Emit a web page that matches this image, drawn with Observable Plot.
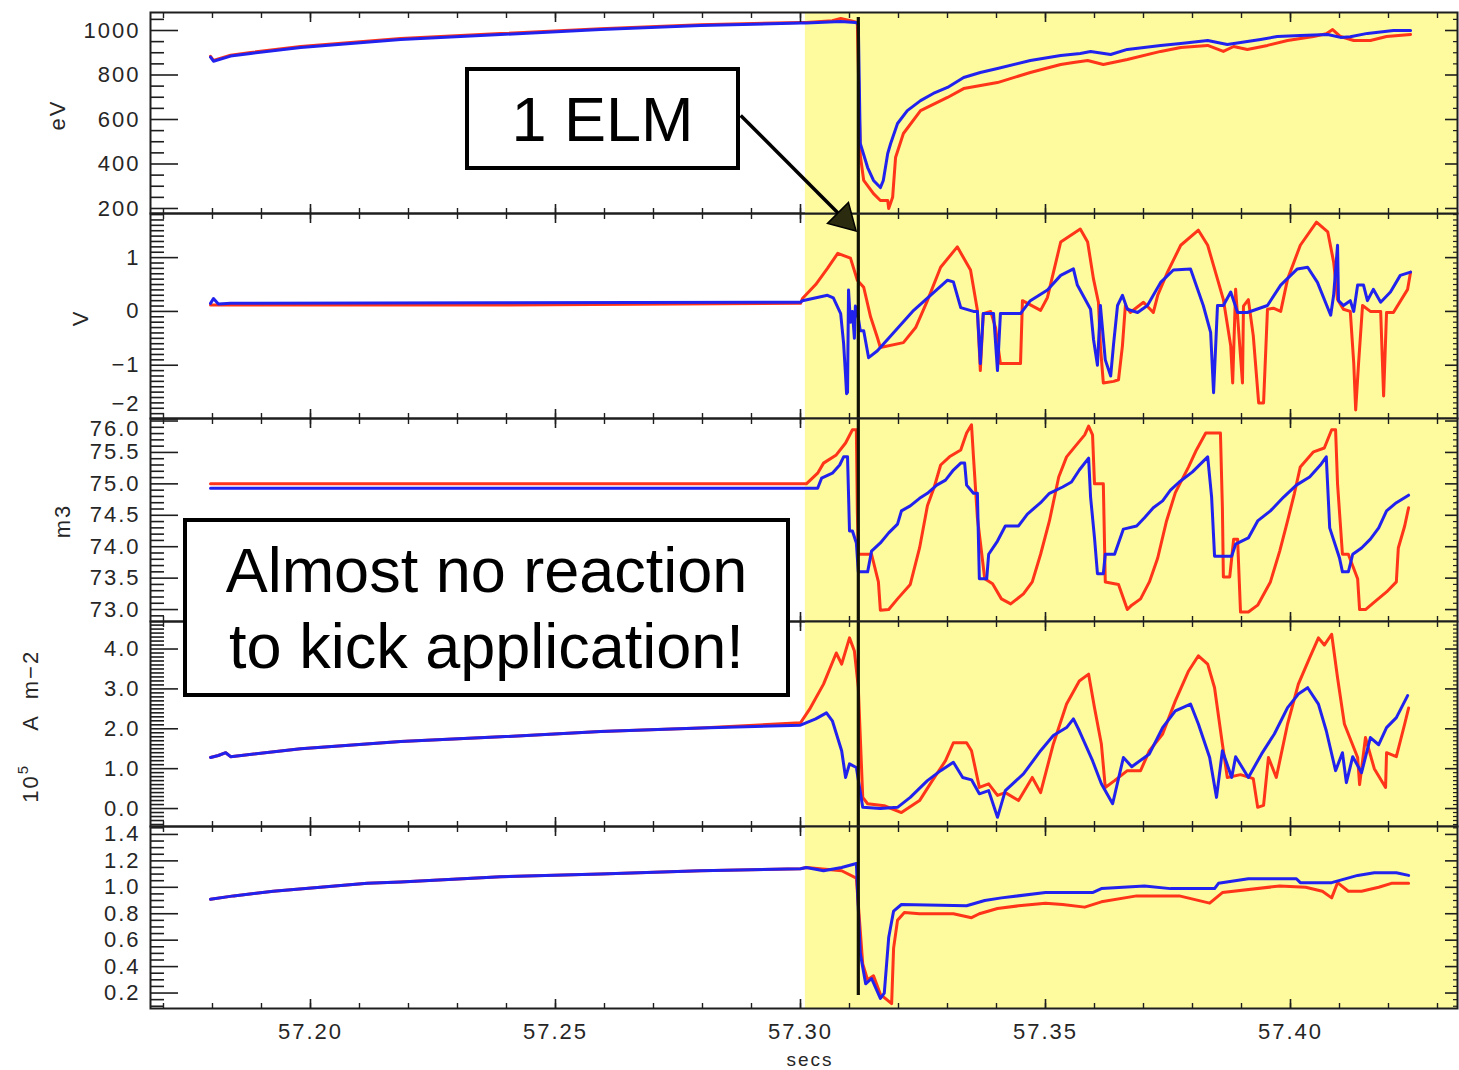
<!DOCTYPE html>
<html>
<head>
<meta charset="utf-8">
<script src="https://cdn.jsdelivr.net/npm/d3@7"></script>
<script src="https://cdn.jsdelivr.net/npm/@observablehq/plot@0.6"></script>
<style>
  body { margin: 0; background: #fff; }
  #chart { position: relative; width: 1459px; height: 1070px; overflow: hidden; background: #fff; }
  .panel { position: absolute; left: 0; }
  .panel svg { overflow: visible; display: block; }
  .panel svg text { letter-spacing: 2px; }
  .note { position: absolute; box-sizing: border-box; border: 4px solid #000; background: #fff;
          font-family: "Liberation Sans", Arial, sans-serif; font-size: 63px; color: #000;
          display: flex; align-items: center; justify-content: center; text-align: center;
          line-height: 76px; z-index: 5; }
</style>
</head>
<body>
<div id="chart"></div>
<script>
// ---------- shared axis data ----------
const xDomain = [57.16735, 57.43408];
const xMajorTicks = [57.20, 57.25, 57.30, 57.35, 57.40];
const xMinorTicks = d3.range(5717, 5744).map(d => d / 100);
const kickWindow = [{start: 57.3010, end: 57.43408}];
const elmTime = [57.3118];
// arrow from the "1 ELM" box to the ELM line (shaft start, head centre)
const elmArrow = [{t1: 57.2878, v1: 618, t2: 57.30888, v2: 153}];

// ---------- panel 1 : eV ----------
const teBlue = [[57.1796,880],[57.1802,862],[57.1837,885],[57.1878,897],[57.1980,924],[57.2184,960],[57.2388,982],[57.2592,1004],[57.2796,1022],[57.3000,1034],[57.3012,1034],[57.3082,1040],[57.3112,1036],[57.3118,1030],[57.3122,492],[57.3137,384],[57.3149,326],[57.3163,294],[57.3169,326],[57.3178,447],[57.3184,492],[57.3198,582],[57.3218,640],[57.3245,685],[57.3271,717],[57.3300,744],[57.3333,789],[57.3367,811],[57.3402,829],[57.3469,865],[57.3531,888],[57.3571,897],[57.3592,906],[57.3633,892],[57.3667,915],[57.3735,933],[57.3776,942],[57.3831,955],[57.3871,937],[57.3939,960],[57.3973,973],[57.4020,978],[57.4076,982],[57.4102,969],[57.4122,972],[57.4157,987],[57.4210,1000],[57.4245,1000]];
const teRed = [[57.1796,884],[57.1802,866],[57.1837,889],[57.1878,901],[57.1980,928],[57.2184,964],[57.2388,986],[57.2592,1008],[57.2796,1026],[57.3000,1036],[57.3012,1036],[57.3065,1044],[57.3082,1054],[57.3102,1044],[57.3116,1036],[57.3122,440],[57.3129,326],[57.3149,267],[57.3163,236],[57.3178,236],[57.3180,200],[57.3188,250],[57.3194,429],[57.3210,537],[57.3245,640],[57.3300,699],[57.3333,739],[57.3402,766],[57.3469,811],[57.3531,847],[57.3557,856],[57.3586,865],[57.3618,847],[57.3667,870],[57.3735,906],[57.3776,924],[57.3831,933],[57.3863,906],[57.3884,928],[57.3912,915],[57.3953,933],[57.3994,955],[57.4047,973],[57.4073,985],[57.4086,1004],[57.4102,973],[57.4129,955],[57.4163,955],[57.4196,973],[57.4245,982]];

// ---------- panel 2 : V ----------
const vBlue = [[57.1796,0.15],[57.1802,0.24],[57.1812,0.14],[57.1837,0.15],[57.2388,0.16],[57.3000,0.17],[57.3004,0.2],[57.3055,0.3],[57.3067,0.25],[57.3082,-0.04],[57.3088,-0.6],[57.3092,-1.2],[57.3094,-1.53],[57.3096,-1.5],[57.3098,0.4],[57.3102,-0.2],[57.3106,0.0],[57.3110,-0.5],[57.3112,0.1],[57.3116,0.0],[57.3122,-0.36],[57.3129,-0.36],[57.3139,-0.86],[57.3157,-0.73],[57.3231,0.02],[57.3300,0.58],[57.3312,0.55],[57.3327,0.07],[57.3353,0.0],[57.3361,0.0],[57.3367,-0.97],[57.3373,-0.04],[57.3394,-0.04],[57.3402,-1.1],[57.3408,-0.04],[57.3449,-0.04],[57.3469,0.2],[57.3504,0.4],[57.3531,0.67],[57.3557,0.79],[57.3565,0.49],[57.3592,0.04],[57.3598,-0.52],[57.3606,-1.0],[57.3612,0.11],[57.3622,-0.9],[57.3633,-1.2],[57.3639,-0.6],[57.3647,0.11],[57.3657,0.3],[57.3667,0.04],[57.3688,-0.02],[57.3708,0.11],[57.3735,0.54],[57.3761,0.77],[57.3796,0.79],[57.3822,0.11],[57.3837,-0.39],[57.3843,-1.51],[57.3851,0.11],[57.3863,0.11],[57.3878,0.36],[57.3892,-0.02],[57.3912,-0.02],[57.3953,0.11],[57.3980,0.49],[57.4014,0.79],[57.4035,0.82],[57.4055,0.54],[57.4082,-0.07],[57.4088,0.3],[57.4096,1.23],[57.4098,0.2],[57.4108,0.11],[57.4122,0.2],[57.4129,0.0],[57.4137,0.49],[57.4149,0.49],[57.4157,0.2],[57.4169,0.41],[57.4184,0.17],[57.4204,0.36],[57.4224,0.67],[57.4245,0.73]];
const vRed = [[57.1796,0.12],[57.2388,0.12],[57.3000,0.15],[57.3004,0.24],[57.3031,0.5],[57.3055,0.8],[57.3076,1.08],[57.3102,0.99],[57.3116,0.58],[57.3129,0.45],[57.3143,-0.1],[57.3157,-0.49],[57.3163,-0.67],[57.3210,-0.58],[57.3235,-0.3],[57.3259,0.2],[57.3286,0.82],[57.3320,1.2],[57.3347,0.77],[57.3361,0.02],[57.3367,-1.1],[57.3373,-0.04],[57.3388,0.0],[57.3398,-0.3],[57.3408,-0.97],[57.3449,-0.97],[57.3453,0.2],[57.3490,0.02],[57.3504,0.26],[57.3531,1.29],[57.3571,1.53],[57.3586,1.29],[57.3598,0.6],[57.3608,0.17],[57.3612,-0.64],[57.3618,-1.33],[57.3639,-1.3],[57.3649,-1.27],[57.3657,-0.64],[57.3663,0.11],[57.3673,-0.02],[57.3700,0.17],[57.3720,-0.02],[57.3729,0.3],[57.3749,0.73],[57.3776,1.23],[57.3812,1.51],[57.3831,1.23],[57.3851,0.6],[57.3863,0.22],[57.3878,-0.64],[57.3882,-1.33],[57.3888,0.41],[57.3902,-1.33],[57.3904,0.1],[57.3914,0.22],[57.3924,-0.45],[57.3935,-1.7],[57.3945,-1.7],[57.3953,0.04],[57.3965,0.06],[57.3980,0.0],[57.3994,0.6],[57.4020,1.23],[57.4053,1.66],[57.4076,1.48],[57.4088,0.92],[57.4096,0.22],[57.4108,0.04],[57.4122,0.0],[57.4129,-0.95],[57.4133,-1.83],[57.4139,-0.95],[57.4147,0.11],[57.4163,0.0],[57.4184,0.0],[57.4190,-1.57],[57.4196,-0.02],[57.4210,-0.02],[57.4239,0.41],[57.4245,0.73]];

// ---------- panel 3 : m3 ----------
const mBlue = [[57.1796,74.93],[57.3000,74.93],[57.3035,74.93],[57.3043,75.09],[57.3065,75.17],[57.3080,75.3],[57.3088,75.43],[57.3096,75.43],[57.3100,74.25],[57.3106,74.25],[57.3114,74.06],[57.3118,73.6],[57.3137,73.6],[57.3145,73.93],[57.3163,74.06],[57.3180,74.22],[57.3198,74.36],[57.3206,74.57],[57.3224,74.65],[57.3243,74.77],[57.3259,74.85],[57.3278,74.98],[57.3296,75.06],[57.3312,75.22],[57.3327,75.33],[57.3335,75.33],[57.3339,74.98],[57.3353,74.85],[57.3361,74.85],[57.3365,73.49],[57.3380,73.49],[57.3384,73.88],[57.3402,74.09],[57.3418,74.33],[57.3445,74.33],[57.3463,74.52],[57.3490,74.7],[57.3508,74.85],[57.3535,74.95],[57.3553,75.03],[57.3569,75.22],[57.3588,75.41],[57.3592,74.79],[57.3600,74.14],[57.3606,73.57],[57.3618,73.57],[57.3622,73.88],[57.3641,73.88],[57.3659,74.28],[57.3686,74.33],[57.3702,74.46],[57.3720,74.62],[57.3739,74.73],[57.3755,74.9],[57.3773,75.03],[57.3800,75.19],[57.3818,75.33],[57.3831,75.43],[57.3839,74.79],[57.3845,73.85],[57.3880,73.85],[57.3888,74.04],[57.3914,74.14],[57.3933,74.41],[57.3959,74.57],[57.3986,74.79],[57.4012,74.98],[57.4039,75.11],[57.4061,75.3],[57.4073,75.43],[57.4080,74.3],[57.4100,73.82],[57.4106,73.6],[57.4118,73.6],[57.4127,73.88],[57.4145,73.98],[57.4163,74.12],[57.4180,74.3],[57.4196,74.57],[57.4216,74.7],[57.4241,74.82]];
const mRed = [[57.1796,75.0],[57.3000,75.0],[57.3012,75.0],[57.3035,75.17],[57.3047,75.33],[57.3073,75.46],[57.3092,75.65],[57.3106,75.86],[57.3114,75.86],[57.3116,74.57],[57.3118,73.88],[57.3145,73.88],[57.3159,73.44],[57.3163,72.99],[57.3180,73.0],[57.3198,73.17],[57.3224,73.4],[57.3243,73.98],[57.3259,74.65],[57.3273,74.95],[57.3286,75.3],[57.3304,75.43],[57.3327,75.54],[57.3339,75.81],[57.3349,75.94],[57.3353,75.43],[57.3361,74.46],[57.3376,73.49],[57.3392,73.41],[57.3410,73.17],[57.3429,73.09],[57.3455,73.25],[57.3473,73.44],[57.3490,73.88],[57.3508,74.41],[57.3527,75.11],[57.3543,75.43],[57.3561,75.6],[57.3580,75.78],[57.3588,75.92],[57.3596,75.78],[57.3600,75.0],[57.3618,75.0],[57.3622,73.44],[57.3649,73.4],[57.3667,73.0],[57.3676,73.07],[57.3694,73.17],[57.3712,73.44],[57.3729,73.82],[57.3747,74.41],[57.3765,74.86],[57.3792,75.27],[57.3808,75.54],[57.3827,75.81],[57.3857,75.81],[57.3861,74.62],[57.3863,73.52],[57.3876,73.52],[57.3880,73.82],[57.3884,74.12],[57.3892,74.12],[57.3898,72.96],[57.3914,72.96],[57.3933,73.07],[57.3959,73.44],[57.3978,73.93],[57.3994,74.41],[57.4008,74.85],[57.4020,75.27],[57.4047,75.51],[57.4069,75.57],[57.4084,75.86],[57.4092,75.86],[57.4096,75.0],[57.4106,73.88],[57.4118,73.88],[57.4137,73.49],[57.4141,73.0],[57.4153,73.0],[57.4171,73.12],[57.4196,73.28],[57.4216,73.44],[57.4220,73.98],[57.4233,74.33],[57.4241,74.62]];

// ---------- panel 4 : 10^5 A m-2 ----------
const jBlue = [[57.1796,1.28],[57.1812,1.33],[57.1827,1.4],[57.1837,1.3],[57.1980,1.5],[57.2184,1.68],[57.2388,1.8],[57.2592,1.93],[57.2796,2.02],[57.3000,2.09],[57.3031,2.25],[57.3053,2.4],[57.3065,2.2],[57.3084,1.45],[57.3092,0.78],[57.3100,1.12],[57.3114,1.03],[57.3127,0.03],[57.3163,0.0],[57.3198,0.03],[57.3224,0.28],[57.3259,0.7],[57.3286,0.95],[57.3312,1.16],[57.3331,0.78],[57.3349,0.72],[57.3365,0.37],[57.3384,0.45],[57.3402,-0.22],[57.3418,0.45],[57.3455,0.87],[57.3490,1.45],[57.3516,1.83],[57.3543,2.03],[57.3557,2.25],[57.3569,1.95],[57.3596,1.2],[57.3614,0.62],[57.3637,0.12],[57.3659,1.28],[57.3676,1.05],[57.3712,1.37],[57.3739,2.03],[57.3765,2.45],[57.3796,2.62],[57.3812,2.12],[57.3835,1.28],[57.3849,0.28],[57.3861,1.45],[57.3880,0.78],[57.3888,1.3],[57.3914,0.78],[57.3941,1.37],[57.3967,1.87],[57.3994,2.53],[57.4016,2.87],[57.4035,3.03],[57.4057,2.62],[57.4073,1.95],[57.4092,0.95],[57.4106,1.4],[57.4114,0.65],[57.4127,1.3],[57.4145,0.9],[57.4163,1.78],[57.4180,1.6],[57.4196,2.03],[57.4216,2.28],[57.4239,2.83]];
const jRed = [[57.1796,1.28],[57.1812,1.33],[57.1827,1.4],[57.1837,1.3],[57.1980,1.5],[57.2184,1.68],[57.2388,1.8],[57.2592,1.93],[57.2796,2.02],[57.3000,2.15],[57.3020,2.52],[57.3047,3.12],[57.3073,3.9],[57.3084,3.62],[57.3100,4.28],[57.3110,3.95],[57.3118,3.03],[57.3127,0.28],[57.3137,0.12],[57.3171,0.07],[57.3206,-0.1],[57.3243,0.2],[57.3269,0.7],[57.3296,1.2],[57.3312,1.65],[57.3339,1.65],[57.3349,1.45],[57.3365,0.53],[57.3384,0.62],[57.3402,0.33],[57.3418,0.4],[57.3445,0.2],[57.3473,0.78],[57.3490,0.4],[57.3516,1.62],[57.3543,2.62],[57.3569,3.2],[57.3588,3.37],[57.3600,2.53],[57.3614,1.62],[57.3622,0.53],[57.3641,0.7],[57.3667,0.95],[57.3694,0.95],[57.3712,1.45],[57.3739,1.87],[57.3765,2.7],[57.3792,3.45],[57.3812,3.83],[57.3831,3.62],[57.3845,3.03],[57.3861,1.62],[57.3871,0.78],[57.3898,0.85],[57.3924,0.75],[57.3933,0.03],[57.3945,0.08],[57.3955,1.28],[57.3971,0.78],[57.3994,2.12],[57.4016,3.12],[57.4039,3.78],[57.4057,4.28],[57.4069,4.1],[57.4084,4.37],[57.4096,3.28],[57.4110,2.12],[57.4137,1.28],[57.4141,0.6],[57.4153,1.78],[57.4171,1.0],[57.4194,0.53],[57.4196,1.4],[57.4216,1.3],[57.4233,2.12],[57.4241,2.52]];

// ---------- panel 5 ----------
const rBlue = [[57.1796,0.91],[57.1843,0.935],[57.1924,0.97],[57.2020,1.0],[57.2116,1.03],[57.2184,1.04],[57.2388,1.08],[57.2592,1.10],[57.2796,1.125],[57.3000,1.14],[57.3012,1.15],[57.3047,1.125],[57.3084,1.15],[57.3114,1.18],[57.3122,0.5],[57.3133,0.27],[57.3145,0.31],[57.3163,0.16],[57.3171,0.2],[57.3180,0.62],[57.3190,0.82],[57.3206,0.87],[57.3339,0.86],[57.3376,0.9],[57.3410,0.92],[57.3500,0.96],[57.3596,0.96],[57.3614,0.99],[57.3702,1.01],[57.3755,0.99],[57.3845,0.99],[57.3853,1.03],[57.3914,1.065],[57.4012,1.065],[57.4020,1.035],[57.4084,1.035],[57.4137,1.09],[57.4171,1.11],[57.4216,1.11],[57.4241,1.09]];
const rRed = [[57.1796,0.91],[57.1843,0.935],[57.1924,0.97],[57.2020,1.0],[57.2116,1.03],[57.2184,1.04],[57.2388,1.08],[57.2592,1.10],[57.2796,1.125],[57.3000,1.14],[57.3012,1.15],[57.3084,1.125],[57.3114,1.07],[57.3127,0.42],[57.3137,0.3],[57.3149,0.33],[57.3163,0.19],[57.3186,0.12],[57.3190,0.54],[57.3198,0.75],[57.3212,0.81],[57.3243,0.8],[57.3312,0.8],[57.3349,0.77],[57.3365,0.8],[57.3402,0.84],[57.3445,0.86],[57.3500,0.88],[57.3535,0.87],[57.3580,0.85],[57.3614,0.89],[57.3686,0.935],[57.3773,0.935],[57.3835,0.88],[57.3861,0.96],[57.3978,1.01],[57.4031,1.0],[57.4065,0.97],[57.4084,0.92],[57.4096,1.035],[57.4118,0.97],[57.4145,0.97],[57.4180,1.0],[57.4206,1.03],[57.4241,1.03]];

// ---------- y tick values ----------
const teTicks = [200, 400, 600, 800, 1000];
const vTicks = [1, 0, -1];
const vEdgeTick = [-2];
const mTicks = [75.5, 75.0, 74.5, 74.0, 73.5, 73.0];
const mEdgeTick = [76.0];
const jTicks = [0, 1, 2, 3, 4];
const rTicks = [0.2, 0.4, 0.6, 0.8, 1.0, 1.2, 1.4];

const RED = "#ff3418", BLUE = "#2222ee", YELLOW = "#fdfb9e", AXIS = "#1e1e1e", TEXT = "#262626";
const fmt1 = d3.format(".1f");
const fmtV = d => d < 0 ? "\u2212" + Math.abs(d) : String(d);

const panels = [
  {top: 12, height: 201, domain: [177.5, 1080.9], major: teTicks, minor: d3.range(5, 22).map(d => d * 50).filter(d => d % 200 !== 0),
   labels: [{ticks: teTicks, dy: 0}], format: d3.format("d"), red: teRed, blue: teBlue},
  {top: 213, height: 205, domain: [-1.99, 1.82], major: [1, 0, -1, -2], minor: d3.range(-19, 19).filter(d => d % 10 !== 0).map(d => d / 10),
   labels: [{ticks: vTicks, dy: 0}, {ticks: vEdgeTick, dy: -15}], format: fmtV, red: vRed, blue: vBlue},
  {top: 418, height: 203, domain: [72.81, 76.04], major: [76.0, ...mTicks], minor: d3.range(729, 761).filter(d => d % 5 !== 0).map(d => d / 10),
   labels: [{ticks: mTicks, dy: 0}, {ticks: mEdgeTick, dy: 8}], format: fmt1, red: mRed, blue: mBlue},
  {top: 621, height: 205, domain: [-0.45, 4.69], major: jTicks, minor: d3.range(-4, 47).filter(d => d % 10 !== 0).map(d => d / 10),
   labels: [{ticks: jTicks, dy: 0}], format: fmt1, red: jRed, blue: jBlue},
  {top: 826, height: 182, domain: [0.083, 1.46], major: rTicks, minor: d3.range(2, 30).filter(d => d % 4 !== 0).map(d => d / 20),
   labels: [{ticks: rTicks, dy: 0}], format: fmt1, red: rRed, blue: rBlue}
];

const chart = document.getElementById("chart");
const BOTTOM = 62;
const label = (s, o) => Plot.text([s], {frameAnchor: "left", textAnchor: "middle", text: d => d, rotate: -90, fontSize: 22, fill: TEXT, ...o});

panels.forEach((p, i) => {
  const last = i === panels.length - 1;
  const marks = [
    Plot.rect(kickWindow, {x1: "start", x2: "end", fill: YELLOW}),
    Plot.line(p.red, {x: d => d[0], y: d => d[1], stroke: RED, strokeWidth: 3}),
    Plot.line(p.blue, {x: d => d[0], y: d => d[1], stroke: BLUE, strokeWidth: 3}),
    Plot.ruleX(elmTime, {stroke: "#121205", strokeWidth: 3.2, insetTop: i === 0 ? 5 : 0, insetBottom: last ? 13 : 0}),
    Plot.frame({stroke: AXIS, strokeWidth: 2}),
    Plot.axisY(p.major, {anchor: "left", tickSize: -28, fill: "none", stroke: AXIS, strokeWidth: 1.6, label: null}),
    Plot.axisY(p.minor, {anchor: "left", tickSize: -14, fill: "none", stroke: AXIS, strokeWidth: 1.6, label: null}),
    Plot.axisY(p.major, {anchor: "right", tickSize: -13, fill: "none", stroke: AXIS, strokeWidth: 1.6, label: null}),
    Plot.axisY(p.minor, {anchor: "right", tickSize: -5, fill: "none", stroke: AXIS, strokeWidth: 1.2, label: null}),
    Plot.axisX(xMajorTicks, {anchor: "top", tickSize: -9, fill: "none", stroke: AXIS, strokeWidth: 1.6, label: null}),
    Plot.axisX(xMinorTicks, {anchor: "top", tickSize: -5, fill: "none", stroke: AXIS, strokeWidth: 1.4, label: null}),
    Plot.axisX(xMajorTicks, {anchor: "bottom", tickSize: -9, fill: "none", stroke: AXIS, strokeWidth: 1.6, label: null}),
    Plot.axisX(xMinorTicks, {anchor: "bottom", tickSize: -5, fill: "none", stroke: AXIS, strokeWidth: 1.4, label: null}),
    ...p.labels.map(l => Plot.axisY(l.ticks, {anchor: "left", tickSize: 0, tickPadding: 10, dy: l.dy, tickFormat: p.format, fill: TEXT, fontSize: 22, label: null}))
  ];
  if (i === 0) {
    marks.push(label("eV", {dx: -93, dy: 2}));
    marks.push(Plot.link(elmArrow, {x1: "t1", y1: "v1", x2: "t2", y2: "v2", stroke: "#000", strokeWidth: 3.5}));
    marks.push(Plot.dot(elmArrow, {x: "t2", y: "v2", symbol: "triangle", r: 11, rotate: 135, fill: "#2b2b10", stroke: "#000", strokeWidth: 1.5}));
  }
  if (i === 1) marks.push(label("V", {dx: -70, dy: 2}));
  if (i === 2) marks.push(label("m3", {dx: -88, dy: 1}));
  if (i === 3) {
    marks.push(label("10", {dx: -120, dy: 64.5}));
    marks.push(label("5", {dx: -127, dy: 45, fontSize: 15}));
    marks.push(label("A", {dx: -120, dy: -1.5}));
    marks.push(label("m\u22122", {dx: -120, dy: -49.5}));
  }
  if (last) {
    marks.push(Plot.axisX(xMajorTicks, {anchor: "bottom", tickSize: 0, tickPadding: 15, tickFormat: d3.format(".2f"), fill: TEXT, fontSize: 22, label: null}));
    marks.push(Plot.text(["secs"], {frameAnchor: "bottom", text: d => d, dx: 6, dy: 57, fontSize: 19, fill: TEXT}));
  }
  const svg = Plot.plot({
    width: 1459,
    height: p.height + (last ? BOTTOM : 0),
    marginLeft: 150, marginRight: 2, marginTop: 0, marginBottom: last ? BOTTOM : 0,
    x: {domain: xDomain},
    y: {domain: p.domain},
    style: {background: "transparent", overflow: "visible", fontFamily: "'Liberation Sans', Arial, sans-serif", fontSize: "22px", color: TEXT},
    marks
  });
  const div = document.createElement("div");
  div.className = "panel";
  div.style.top = p.top + "px";
  div.style.zIndex = i === 0 ? 3 : 1;
  div.appendChild(svg);
  chart.appendChild(div);
});

// annotation boxes
const notes = [
  {text: "1 ELM", left: 465, top: 67, width: 275, height: 103},
  {text: "Almost no reaction<br>to kick application!", left: 183, top: 518, width: 607, height: 179}
];
notes.forEach(n => {
  const d = document.createElement("div");
  d.className = "note";
  d.style.left = n.left + "px"; d.style.top = n.top + "px";
  d.style.width = n.width + "px"; d.style.height = n.height + "px";
  d.innerHTML = n.text;
  chart.appendChild(d);
});
</script>
</body>
</html>
